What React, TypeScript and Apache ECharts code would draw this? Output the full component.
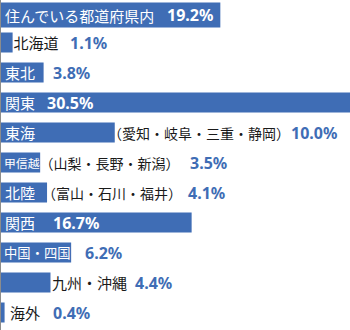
import { useEffect, useRef } from 'react';
import * as echarts from 'echarts';

// ---- data ----
const categories = ['住んでいる都道府県内', '北海道', '東北', '関東', '東海', '甲信越', '北陸', '関西', '中国・四国', '九州・沖縄', '海外'];
const notes = ['', '', '', '', '（愛知・岐阜・三重・静岡）', '（山梨・長野・新潟）', '（富山・石川・福井）', '', '', '', ''];
const values = [19.2, 1.1, 3.8, 30.5, 10.0, 3.5, 4.1, 16.7, 6.2, 4.4, 0.4];

// ---- label layout (px from the left of the plot) ----
const nameX = [5, 13.5, 5, 5, 5, 4, 5, 5, 4, 52, 10];
const noteX = [0, 0, 0, 0, 108, 39.5, 42, 0, 0, 0, 0];
const pctX = [167, 70, 53, 47, 291, 190, 188, 53, 85, 135, 53];

const W = 350;
const H = 330;
const X_MAX = 30.5;
const BLUE = '#3f6db5';
const DARK = '#1a1a1a';
const CJK = '"Noto Sans CJK JP", "Noto Sans", sans-serif';
const NUM = '"Noto Sans", "Open Sans", sans-serif';

function buildItem(i: number) {
  const v = values[i];
  const barPx = (v / X_MAX) * W;
  const name = categories[i];
  const note = notes[i];
  const pct = v.toFixed(1) + '%';
  const nameInside = nameX[i] < barPx;
  const pctInside = pctX[i] < barPx;
  let nameSize = 15;
  if (nameInside) {
    const fit = (barPx - nameX[i] - 0.5) / name.length;
    nameSize = Math.min(15, Math.max(11, fit));
  }
  const nameW = (note ? noteX[i] : pctX[i]) - nameX[i];
  const rich: any = {
    n: {
      width: nameW,
      fontSize: nameSize,
      fontFamily: CJK,
      color: nameInside ? '#ffffff' : DARK,
      verticalAlign: 'middle',
      lineHeight: 20,
    },
    p: {
      fontSize: 16,
      fontWeight: 'bold',
      fontFamily: NUM,
      color: pctInside ? '#ffffff' : BLUE,
      verticalAlign: 'middle',
      lineHeight: 20,
    },
  };
  if (note) {
    rich.t = {
      width: pctX[i] - noteX[i],
      fontSize: 14,
      fontFamily: CJK,
      color: DARK,
      verticalAlign: 'middle',
      lineHeight: 20,
    };
  }
  return {
    value: v,
    label: {
      show: true,
      position: [nameX[i], '50%'],
      align: 'left',
      verticalAlign: 'middle',
      formatter: note ? `{n|${name}}{t|${note}}{p|${pct}}` : `{n|${name}}{p|${pct}}`,
      rich,
    },
  };
}

export default function App() {
  const ref = useRef<HTMLDivElement>(null);
  useEffect(() => {
    document.body.style.margin = '0';
    if (!ref.current) return;
    const chart = echarts.init(ref.current, undefined, { renderer: 'svg' });
    const mainData = values.map((_, i) => (i === 0 ? '-' : buildItem(i)));
    const topData = values.map((_, i) => (i === 0 ? buildItem(i) : '-'));
    chart.setOption({
      animation: false,
      backgroundColor: '#ffffff',
      grid: { left: 0, right: 0, top: -1.5, bottom: -1.5, containLabel: false },
      xAxis: { type: 'value', min: 0, max: X_MAX, show: false },
      yAxis: {
        type: 'category',
        data: categories,
        inverse: true,
        z: 10,
        axisLabel: { show: false },
        axisTick: { show: false },
        splitLine: { show: false },
        axisLine: { show: true, lineStyle: { color: '#8c8c8c', width: 2 } },
      },
      series: [
        {
          type: 'bar',
          data: mainData,
          barWidth: 20,
          barGap: '-100%',
          silent: true,
          itemStyle: { color: BLUE },
        },
        {
          type: 'bar',
          data: topData,
          barWidth: 25,
          barGap: '-100%',
          silent: true,
          itemStyle: { color: BLUE },
        },
      ],
    });
    return () => chart.dispose();
  }, []);
  return <div ref={ref} style={{ width: W, height: H }} />;
}
